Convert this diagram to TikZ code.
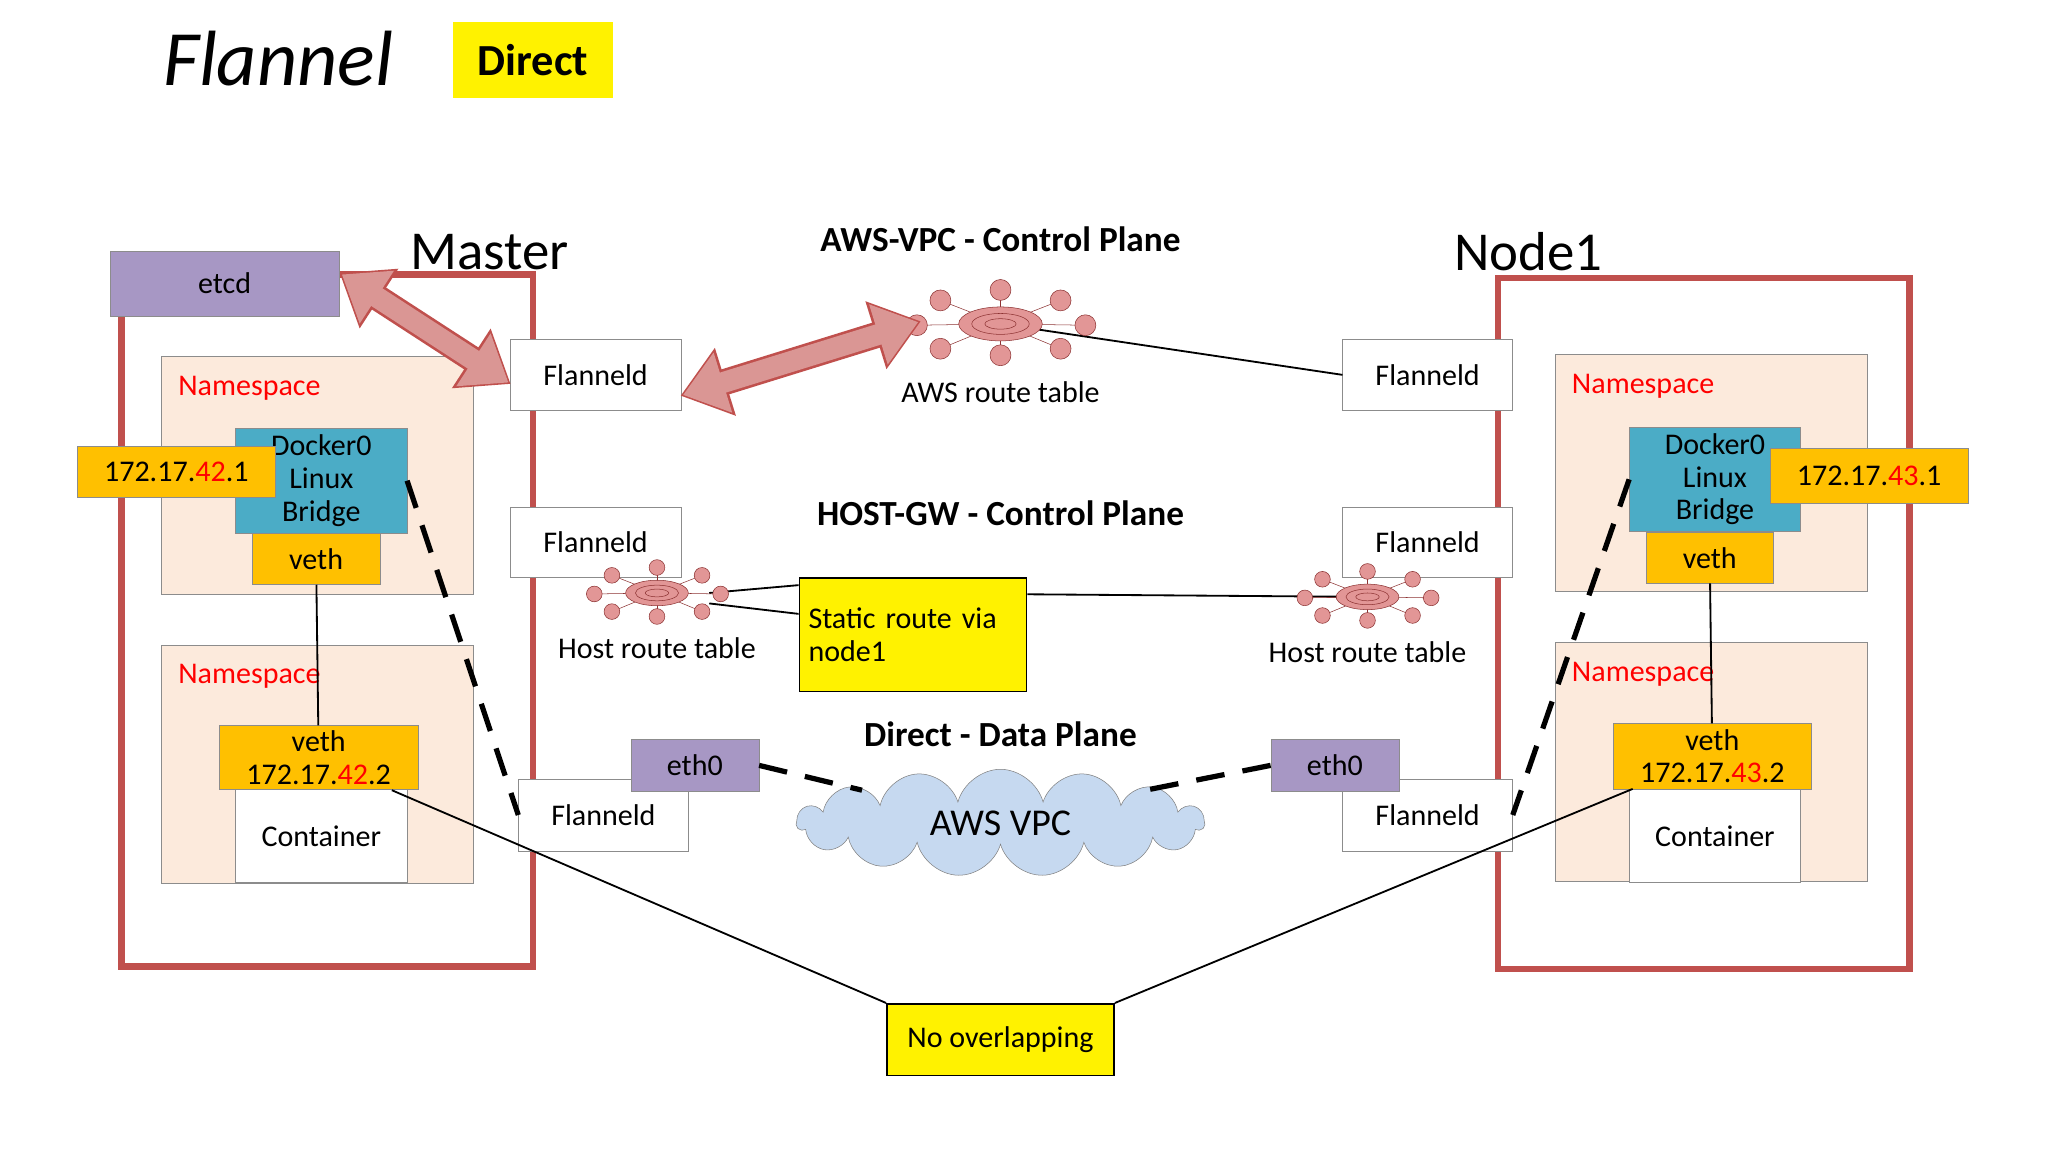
\documentclass[tikz,border=0pt]{standalone}
\usepackage{fontspec}
\setmainfont{Carlito}
\usetikzlibrary{shapes.symbols,arrows.meta}
\definecolor{frame}{RGB}{192,80,77}
\definecolor{nsfill}{RGB}{252,234,220}
\definecolor{lilac}{RGB}{167,151,196}
\definecolor{teal}{RGB}{75,172,198}
\definecolor{amber}{RGB}{255,192,0}
\definecolor{arrowpink}{RGB}{218,150,148}
\definecolor{rtfill}{RGB}{226,150,150}
\definecolor{rtedge}{RGB}{140,50,50}
\definecolor{cloudfill}{RGB}{198,217,240}
\tikzset{
  box/.style={draw=black!45,inner sep=0pt,align=center,font=\fontsize{23}{25}\selectfont},
  head/.style={font=\fontsize{27}{29}\selectfont\bfseries},
  lbl/.style={font=\fontsize{23}{25}\selectfont},
  fatout/.style={frame,line width=20pt,{Triangle[length=36pt,width=52pt]}-{Triangle[length=36pt,width=52pt]}},
  fatin/.style={arrowpink,line width=16pt,shorten <=2pt,shorten >=2pt,{Triangle[length=32pt,width=46pt]}-{Triangle[length=32pt,width=46pt]}},
  dashy/.style={line width=4pt,dash pattern=on 22pt off 14pt},
  link/.style={line width=1.4pt},
  pics/router/.style={code={
    \foreach \dx/\dy in {-46/-18,0/-26,46/-18,-64/1,65/1,-46/19,0/24,46/19}
      {\draw[rtedge] (0,0) -- (\dx,\dy);
       \draw[rtedge,fill=rtfill] (\dx,\dy) circle (8);}
    \draw[rtedge,fill=rtfill] (0,0) ellipse (32 and 13);
    \draw[rtedge] (0,0) ellipse (22 and 8);
    \draw[rtedge] (0,0) ellipse (12 and 4);
  }}
}
\newcommand{\ipa}[1]{172.17.{\color{red}#1}}
\begin{document}
\begin{tikzpicture}[x=1pt,y=-1pt]
\useasboundingbox[fill=white] (0,0) rectangle (1568,882);
% title
\node[font=\fontsize{60}{62}\selectfont\itshape] (title) at (213,45) {Flannel};
\node[fill=yellow,minimum width=122,minimum height=58,inner sep=0pt,
  font=\fontsize{34}{36}\selectfont\bfseries] (direct) at (408,46) {Direct};
\node[font=\fontsize{42}{44}\selectfont] (master) at (375,193) {Master};
\node[font=\fontsize{42}{44}\selectfont] (node1) at (1170,193) {Node1};
% host frames
\draw[frame,line width=5pt] (93,210) rectangle (408,740);
\draw[frame,line width=5pt] (1147,213) rectangle (1462,742);
% left host
\node[box,fill=lilac,minimum width=175,minimum height=50] (etcd) at (172,217) {etcd};
\node[box,fill=nsfill,minimum width=239,minimum height=182] (nsA) at (243,364) {};
\node[lbl,red,anchor=west] at (133,297) {Namespace};
\node[box,fill=nsfill,minimum width=239,minimum height=182] (nsB) at (243,585) {};
\node[lbl,red,anchor=west] at (133,518) {Namespace};
\node[box,fill=teal,minimum width=131,minimum height=80] (dockA) at (246,368) {Docker0\\Linux\\Bridge};
\node[box,fill=amber,minimum width=152,minimum height=39] (ipA) at (135,361) {\ipa{42}.1};
\node[box,fill=amber,minimum width=98,minimum height=39] (vethA) at (242,428) {veth};
\node[box,fill=amber,minimum width=152,minimum height=49] (vethB) at (244,580) {veth\\\ipa{42}.2};
\node[box,fill=white,minimum width=131,minimum height=71] (contA) at (246,640) {Container};
% right host
\node[box,fill=nsfill,minimum width=239,minimum height=182] (nsC) at (1310,362) {};
\node[lbl,red,anchor=west] at (1200,296) {Namespace};
\node[box,fill=nsfill,minimum width=239,minimum height=183] (nsD) at (1310,583) {};
\node[lbl,red,anchor=west] at (1200,516) {Namespace};
\node[box,fill=teal,minimum width=131,minimum height=80] (dockB) at (1313,367) {Docker0\\Linux\\Bridge};
\node[box,fill=amber,minimum width=152,minimum height=42] (ipB) at (1431,364) {\ipa{43}.1};
\node[box,fill=amber,minimum width=97,minimum height=39] (vethC) at (1309,427) {veth};
\node[box,fill=amber,minimum width=152,minimum height=50] (vethD) at (1311,579) {veth\\\ipa{43}.2};
\node[box,fill=white,minimum width=131,minimum height=71] (contB) at (1313,640) {Container};
% flanneld
\node[box,fill=white,minimum width=131,minimum height=54] (flA1) at (456,287) {Flanneld};
\node[box,fill=white,minimum width=131,minimum height=54] (flA2) at (456,415) {Flanneld};
\node[box,fill=white,minimum width=130,minimum height=55] (flA3) at (462,624) {Flanneld};
\node[box,fill=white,minimum width=130,minimum height=54] (flB1) at (1093,287) {Flanneld};
\node[box,fill=white,minimum width=130,minimum height=54] (flB2) at (1093,415) {Flanneld};
\node[box,fill=white,minimum width=130,minimum height=55] (flB3) at (1093,624) {Flanneld};
\node[box,fill=lilac,minimum width=98,minimum height=40] (ethA) at (532,586) {eth0};
\node[box,fill=lilac,minimum width=98,minimum height=40] (ethB) at (1022,586) {eth0};
% headings
\node[head] at (766,183) {AWS-VPC - Control Plane};
\node[head] at (766,393) {HOST-GW - Control Plane};
\node[head] at (766,562) {Direct - Data Plane};
% routers
\coordinate (awsrt) at (766,248);
\coordinate (hrtA) at (503,454);
\coordinate (hrtB) at (1047,457);
\draw[link] (awsrt) -- (flB1.west);
\node[box,draw=black,line width=1.2pt,fill=yellow,minimum width=174,minimum height=87,align=left,text width=160]
  (static) at (699,486) {Static route via\\node1};
\draw[link] (hrtA) ++(40,0) -- (static.west |- 0,448);
\draw[link] (hrtA) ++(40,8) -- (static.west |- 0,470);
\draw[link] (static.east |- 0,455) -- (hrtB);
\pic at (awsrt) {router};
\pic[scale=0.75] at (hrtA) {router};
\pic[scale=0.75] at (hrtB) {router};
\node[lbl] at (766,300) {AWS route table};
\node[lbl] at (503,496) {Host route table};
\node[lbl] at (1047,499) {Host route table};
% cloud
\node[cloud,cloud puffs=15,aspect=4.2,draw=black!50,fill=cloudfill,minimum width=312,
  minimum height=82,inner sep=0pt,font=\fontsize{29}{31}\selectfont] (vpc) at (766,630) {AWS VPC};
% fat arrows
\coordinate (arrA1) at (260,209);
\coordinate (arrA2) at (391,294);
\coordinate (arrB1) at (521,303);
\coordinate (arrB2) at (705,246);
\draw[fatout] (arrA1) -- (arrA2);
\draw[fatin] (arrA1) -- (arrA2);
\draw[fatout] (arrB1) -- (arrB2);
\draw[fatin] (arrB1) -- (arrB2);
% links
\draw[link] (vethA) -- (vethB);
\draw[link] (vethC) -- (vethD);
\draw[dashy] (dockA.east) -- (flA3.west);
\draw[dashy] (dockB.west) -- (flB3.east);
\draw[dashy] (ethA.east) -- (660,605);
\draw[dashy] (ethB.west) -- (877,605);
\node[box,draw=black,line width=1.2pt,fill=yellow,minimum width=174,minimum height=55] (nolap) at (766,796) {No overlapping};
\draw[link] (300,605) -- (nolap.north west);
\draw[link] (1250,604) -- (nolap.north east);
\end{tikzpicture}
\end{document}
